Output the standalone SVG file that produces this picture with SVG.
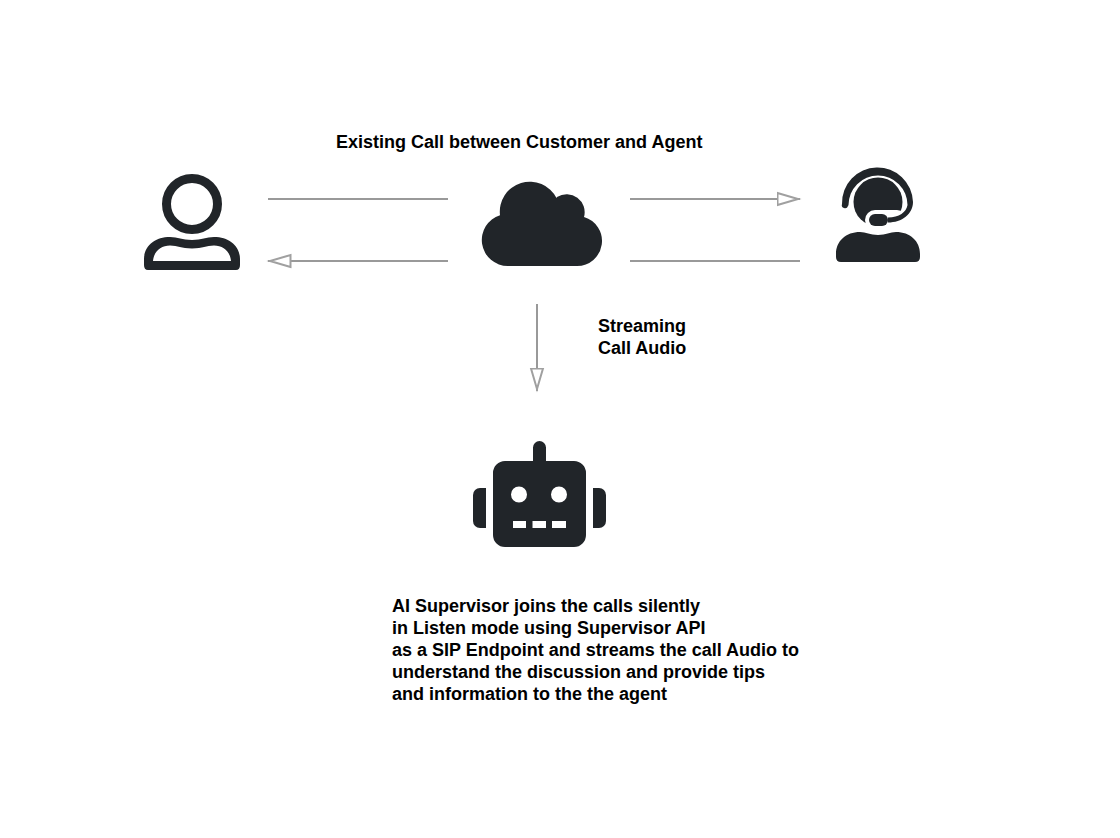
<svg xmlns="http://www.w3.org/2000/svg" width="1120" height="838" viewBox="0 0 1120 838">
<style>
.t{font-family:"Liberation Sans",Arial,sans-serif;font-size:18px;font-weight:700;fill:#000}
.c{fill:none;stroke:#999;stroke-width:2}
.i{fill:#212529}
</style>
<defs>
<marker id="a" markerUnits="userSpaceOnUse" markerWidth="26" markerHeight="18" refX="23.500" refY="8" orient="auto">
<path d="M1 2L21.500 8L1 14Z" fill="#fff" stroke="#a0a0a0" stroke-width="2"/>
</marker>
</defs>
<rect width="1120" height="838" fill="#fff"/>
<g id="connectors">
<path class="c" d="M268 199H448"/>
<path class="c" d="M448 261H268" marker-end="url(#a)"/>
<path class="c" d="M630 199H800" marker-end="url(#a)"/>
<path class="c" d="M800 261H630"/>
<path class="c" d="M537 304V391" marker-end="url(#a)"/>
</g>
<g id="customer">
<circle cx="192" cy="204" r="25.500" fill="none" stroke="#212529" stroke-width="9"/>
<path class="i" fill-rule="evenodd" d="M148 270Q144 270 144 265V259C144 246 155 237 170 237C178 237 182 240 192 240C202 240 206 237 214 237C229 237 240 246 240 259V265Q240 270 236 270ZM153 261H231C230 251 223 245.500 214 245.500C206 245.500 203 248.500 192 248.500C181 248.500 178 245.500 170 245.500C161 245.500 154 251 153 261Z"/>
</g>
<g id="cloud">
<path class="i" d="M508 266A26 26 0 0 1 500 215.200A30 30 0 0 1 556.500 198L557 197A18 18 0 0 1 584 217A25 25 0 0 1 577 266Z"/>
</g>
<g id="agent">
<circle class="i" cx="878" cy="202" r="24.500"/>
<rect x="865" y="210" width="42" height="20" rx="10" fill="#fff"/>
<path class="i" d="M842 204A35.500 35.500 0 0 1 913 202C913 214 902 222.500 888 222.500V217.500C899 217.500 906.500 212 907.500 205A29.500 29.500 0 0 0 848.500 205L848 206A3 3 0 0 1 842 204Z"/>
<rect class="i" x="869" y="214" width="19" height="12" rx="6"/>
<path class="i" d="M836 254C836 241 846 232 860 232C866 232 870 235 878 235C886 235 890 232 896 232C910 232 920 241 920 254V257Q920 262 915 262H841Q836 262 836 257Z"/>
</g>
<g id="robot">
<path class="i" fill-rule="evenodd" d="M533 461V447.500A6.500 6.500 0 0 1 546 447.500V461H574A12 12 0 0 1 586 473V535A12 12 0 0 1 574 547H505A12 12 0 0 1 493 535V473A12 12 0 0 1 505 461ZM527 494.500A8 8 0 1 0 511 494.500A8 8 0 1 0 527 494.500ZM567 494.500A8 8 0 1 0 551 494.500A8 8 0 1 0 567 494.500ZM513 521V528H526V521ZM532.500 521V528H546V521ZM552 521V528H566V521Z"/>
<path class="i" d="M486 488V528H480A7 7 0 0 1 473 521V495A7 7 0 0 1 480 488Z"/>
<path class="i" d="M593 488V528H599A7 7 0 0 0 606 521V495A7 7 0 0 0 599 488Z"/>
</g>
<g id="labels">
<text class="t" x="336" y="148">Existing Call between Customer and Agent</text>
<text class="t" x="598" y="332">Streaming</text>
<text class="t" x="598" y="354">Call Audio</text>
<text class="t" x="392" y="612">AI Supervisor joins the calls silently</text>
<text class="t" x="392" y="634">in Listen mode using Supervisor API</text>
<text class="t" x="392" y="656">as a SIP Endpoint and streams the call Audio to</text>
<text class="t" x="392" y="678">understand the discussion and provide tips</text>
<text class="t" x="392" y="700">and information to the the agent</text>
</g>
</svg>
